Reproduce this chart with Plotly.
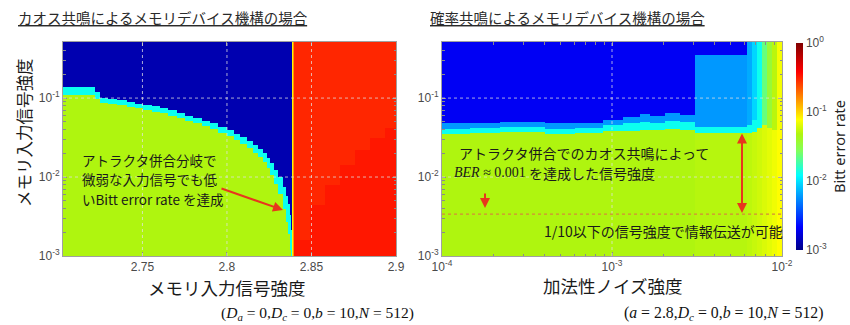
import numpy as np
import plotly.graph_objects as go

# ---------------- left panel: chaotic-resonance memory ----------------
# column edges along the memory input amplitude (boundary region)
cm_edge_x = [2.7030, 2.7219, 2.7249, 2.7296, 2.7349, 2.7408, 2.7456, 2.7503, 2.7556, 2.7604,
             2.7651, 2.7704, 2.7751, 2.7799, 2.7852, 2.7899, 2.7947, 2.8000, 2.8041, 2.8077,
             2.8118, 2.8154, 2.8183, 2.8213, 2.8237, 2.8254, 2.8278, 2.8302, 2.8331, 2.8349,
             2.8361, 2.8373, 2.8379, 2.8382]
# signal level where the low-BER (deep blue) region ends, per column
cm_blue_floor = [0.139, 0.119, 0.100, 0.0971, 0.0943, 0.0898, 0.0852, 0.0815, 0.0780, 0.0747,
                 0.0695, 0.0646, 0.0600, 0.0558, 0.0519, 0.0482, 0.0436, 0.0394, 0.0355, 0.0321,
                 0.0286, 0.0254, 0.0226, 0.0201, 0.0174, 0.0150, 0.0123, 0.0100, 0.00747, 0.00575,
                 0.00455, 0.00330, 0.00213]
# signal level where the yellow-green region starts, per column
cm_green_top = [0.109, 0.0971, 0.0864, 0.0839, 0.0815, 0.0776, 0.0736, 0.0705, 0.0675, 0.0646,
                0.0600, 0.0558, 0.0519, 0.0482, 0.0442, 0.0405, 0.0366, 0.0330, 0.0294, 0.0262,
                0.0233, 0.0204, 0.0179, 0.0155, 0.0130, 0.0106, 0.00815, 0.00609, 0.00394, 0.00269,
                0.00190, 0.00119, 0.0010]
# narrow bifurcation line columns
cm_split_x = [2.8382, 2.8391, 2.8397]
cm_split_ber = [0.083, 0.150]
# high-BER side beyond the bifurcation
cm_red_x = [2.8397, 2.8491, 2.8580, 2.8669, 2.8757, 2.8846, 2.8935, 2.9000]
cm_red_floor = [0.0016, 0.0044, 0.0079, 0.0142, 0.022, 0.031, 0.042]

cm_ber_deep = 0.0013
cm_ber_rim = 0.013
cm_ber_low = 0.048
cm_ber_red = 0.30
cm_ber_red_deep = 0.33

# ---------------- right panel: stochastic-resonance memory ----------------
sr_x = [1.000e-4, 1.461e-4, 2.194e-4, 4.035e-4, 6.058e-4, 8.855e-4, 1.161e-3, 1.461e-3,
        1.673e-3, 2.050e-3, 2.512e-3, 3.077e-3, 6.224e-3, 6.659e-3, 7.126e-3, 7.627e-3,
        8.163e-3, 8.737e-3, 9.346e-3, 1.000e-2]
sr_cap = [1, 1, 1, 1, 1, 1, 1, 1, 1, 1, 1, 0.350, 1, 1, 1, 1, 1, 1, 1]
sr_upper = [0.0020] * 11 + [0.0060, 0.0068, 0.0091, 0.013, 0.023, 0.036, 0.051, 0.073]
sr_floor = [0.0476, 0.0482, 0.0497, 0.0476, 0.0482, 0.0527, 0.0575, 0.0627, 0.0592, 0.0646,
            0.0609, 0.0429, 0.0455, 0.0527, 0.0575, 0.0455, 0.0417, 0.0394, 0.0394]
sr_light_end = [0.0411, 0.0417, 0.0429, 0.0411, 0.0417, 0.0449, 0.0476, 0.0497, 0.0482, 0.0512,
                0.0497, 0.0429, 0.0455, 0.0527, 0.0575, 0.0455, 0.0417, 0.0394, 0.0394]
sr_rim = [0.0355, 0.0361, 0.0371, 0.0355, 0.0361, 0.0382, 0.0388, 0.0394, 0.0394, 0.0405,
          0.0394, 0.0361, 0.0361, 0.0371, 0.0417, 0.0455, 0.0417, 0.0394, 0.0394]
sr_lower = [0.048] * 11 + [0.050, 0.052, 0.055, 0.058, 0.062, 0.066, 0.071, 0.078]
sr_ber_deep = 0.0020
sr_ber_light = 0.0060
sr_ber_cyan = 0.013

# achieved-BER reference level (dotted line)
ref_level = 0.0034

# ---------------- raster rows (signal level) ----------------
y_edges = np.logspace(-3, -0.29, 542)
y_mid = np.sqrt(y_edges[:-1] * y_edges[1:])

# left raster
cols = []
for fl, gt in zip(cm_blue_floor, cm_green_top):
    c = np.where(y_mid >= fl, cm_ber_deep, np.where(y_mid >= gt, cm_ber_rim, cm_ber_low))
    cols.append(c)
for b in cm_split_ber:
    cols.append(np.full_like(y_mid, b))
for fl in cm_red_floor:
    cols.append(np.where(y_mid >= fl, cm_ber_red, cm_ber_red_deep))
z_left = np.log10(np.column_stack(cols))
x_left = cm_edge_x + cm_split_x[1:] + cm_red_x[1:]

# right raster
cols = []
for cap, up, fl, le, rim, lo in zip(sr_cap, sr_upper, sr_floor, sr_light_end, sr_rim, sr_lower):
    c = np.where(y_mid >= cap, sr_ber_deep,
        np.where(y_mid >= fl, up,
        np.where(y_mid >= le, sr_ber_light,
        np.where(y_mid >= rim, sr_ber_cyan, lo))))
    cols.append(c)
z_right = np.log10(np.column_stack(cols))

jet = [[0.0, 'rgb(0,0,135)'], [0.11, 'rgb(0,0,255)'], [0.36, 'rgb(0,255,255)'],
       [0.48, 'rgb(130,255,90)'], [0.56, 'rgb(175,245,15)'], [0.63, 'rgb(255,255,0)'],
       [0.86, 'rgb(255,0,0)'], [1.0, 'rgb(128,0,0)']]

fig = go.Figure()
fig.add_trace(go.Heatmap(x=x_left, y=y_edges, z=z_left, coloraxis='coloraxis',
                         xaxis='x', yaxis='y', hoverinfo='skip'))
fig.add_trace(go.Heatmap(x=sr_x, y=y_edges, z=z_right, coloraxis='coloraxis',
                         xaxis='x2', yaxis='y2', hoverinfo='skip'))

W, H = 850, 325
def px(v):
    return v / W
def py(v):
    return 1 - v / H

tick_font = dict(family='Liberation Sans, Arial, sans-serif', size=12, color='#4a4a4a')
jp = 'Noto Sans CJK JP, sans-serif'
serif = 'Liberation Serif, Times New Roman, serif'

def sup(p):
    return '10<sup>%d</sup>' % p

minor_y = [m * 10.0 ** e for e in (-3, -2, -1) for m in range(2, 10) if m * 10.0 ** e < 0.51]
minor_x2 = [m * 10.0 ** e for e in (-4, -3) for m in range(2, 10)]

axis_common = dict(showline=True, linecolor='#a0a0a0', linewidth=1, mirror='ticks',
                   ticks='inside', ticklen=4, tickcolor='#8a8a8a', showgrid=False,
                   zeroline=False, tickfont=tick_font)
ydom = [1 - 256 / H, 1 - 42 / H]

fig.update_layout(
    width=W, height=H, autosize=False,
    margin=dict(l=0, r=0, t=0, b=0, autoexpand=False),
    paper_bgcolor='white', plot_bgcolor='white',
    coloraxis=dict(
        cmin=-3, cmax=0, colorscale=jet,
        colorbar=dict(x=px(796), xanchor='left', y=py(146.5), yanchor='middle',
                      len=207, lenmode='pixels', thickness=7, outlinewidth=0,
                      xpad=0, ypad=0, tickvals=[-3, -2, -1, 0],
                      ticktext=[sup(-3), sup(-2), sup(-1), sup(0)], ticks='',
                      tickfont=tick_font,
                      title=dict(text='Bitt error rate', side='right',
                                 font=dict(family='Noto Sans, Liberation Sans, sans-serif',
                                           size=14.5, color='#222')))),
    xaxis=dict(domain=[63 / W, 396 / W], range=[2.703, 2.9], anchor='y',
               tickvals=[2.75, 2.8, 2.85, 2.9], ticktext=['2.75', '2.8', '2.85', '2.9'],
               **axis_common),
    yaxis=dict(domain=ydom, type='log', range=[-3, -0.29], anchor='x',
               tickvals=[0.001, 0.01, 0.1], ticktext=[sup(-3), sup(-2), sup(-1)],
               minor=dict(tickvals=minor_y, ticks='inside', ticklen=2.5, tickcolor='#8a8a8a',
                          showgrid=False),
               **axis_common),
    xaxis2=dict(domain=[442 / W, 782 / W], type='log', range=[-4, -2], anchor='y2',
                tickvals=[1e-4, 1e-3, 1e-2], ticktext=[sup(-4), sup(-3), sup(-2)],
                minor=dict(tickvals=minor_x2, ticks='inside', ticklen=2.5, tickcolor='#8a8a8a',
                           showgrid=False),
                **axis_common),
    yaxis2=dict(domain=ydom, type='log', range=[-3, -0.29], anchor='x2',
                tickvals=[0.001, 0.01, 0.1], ticktext=[sup(-3), sup(-2), sup(-1)],
                minor=dict(tickvals=minor_y, ticks='inside', ticklen=2.5, tickcolor='#8a8a8a',
                           showgrid=False),
                **axis_common),
)

# grid lines drawn over the rasters
grid = dict(color='rgba(225,225,225,0.75)', width=1, dash='dot')
for xv in (2.75, 2.8, 2.85):
    fig.add_shape(type='line', xref='x', yref='y domain', x0=xv, x1=xv, y0=0, y1=1,
                  line=grid, layer='above')
for yv in (0.01, 0.1):
    fig.add_shape(type='line', xref='x domain', yref='y', x0=0, x1=1, y0=yv, y1=yv,
                  line=grid, layer='above')
    fig.add_shape(type='line', xref='x2 domain', yref='y2', x0=0, x1=1, y0=yv, y1=yv,
                  line=grid, layer='above')
fig.add_shape(type='line', xref='x2', yref='y2 domain', x0=1e-3, x1=1e-3, y0=0, y1=1,
              line=grid, layer='above')
# achieved level reference line
fig.add_shape(type='line', xref='x2 domain', yref='y2', x0=0, x1=1, y0=ref_level, y1=ref_level,
              line=dict(color='#d48a3a', width=1.2, dash='dot'), layer='above')

def note(text, x, y, size=14, family=jp, color='#1a1a1a', xanchor='left', angle=0):
    fig.add_annotation(text=text, x=px(x), y=py(y), xref='paper', yref='paper',
                       xanchor=xanchor, yanchor='middle', showarrow=False, textangle=angle,
                       font=dict(family=family, size=size, color=color))

# panel titles
note('<u>カオス共鳴によるメモリデバイス機構の場合</u>', 16, 18, size=14.5, color='#2a2a2a')
note('<u>確率共鳴によるメモリデバイス機構の場合</u>', 428, 18, size=14.5, color='#2a2a2a')

# axis titles
note('メモリ入力信号強度', 24, 133, size=16.5, xanchor='center', angle=-90)
note('メモリ入力信号強度', 227, 287, size=17.5, xanchor='center')
note('加法性ノイズ強度', 612, 285, size=17.5, xanchor='center')

# parameter sets
note('(<i>D</i><sub><i>a</i></sub> = 0,<i>D</i><sub><i>c</i></sub> = 0,<i>b</i> = 10,<i>N</i> = 512)',
     219, 313, size=15.5, family=serif, color='#111')
note('(<i>a</i> = 2.8,<i>D</i><sub><i>c</i></sub> = 0,<i>b</i> = 10,<i>N</i> = 512)',
     622, 313, size=15.8, family=serif, color='#111')

# left panel notes
note('アトラクタ併合分岐で', 80, 160, size=13.5)
note('微弱な入力信号でも低', 80, 179, size=13.5)
note('いBitt error rate を達成', 80, 199, size=13.5)

# right panel notes
note('アトラクタ併合でのカオス共鳴によって', 457, 153, size=14)
note('<i>BER</i> ≈ 0.001', 452, 173, size=14, family=serif)
note('を達成した信号強度', 527, 173, size=14)
note('1/10以下の信号強度で情報伝送が可能', 542, 231, size=14)

red = '#e8361d'
def arrow(xh, yh, xt, yt, both=False):
    fig.add_annotation(text='', x=px(xh), y=py(yh), xref='paper', yref='paper',
                       ax=xt - xh, ay=yt - yh, axref='pixel', ayref='pixel',
                       showarrow=True, arrowhead=2, startarrowhead=2, arrowsize=1,
                       startarrowsize=1, arrowwidth=2, arrowcolor=red,
                       arrowside='end+start' if both else 'end')

arrow(283, 210, 220, 188)
arrow(485, 208, 485, 192)
arrow(742, 213, 742, 132, both=True)

fig.write_html('out.html')
